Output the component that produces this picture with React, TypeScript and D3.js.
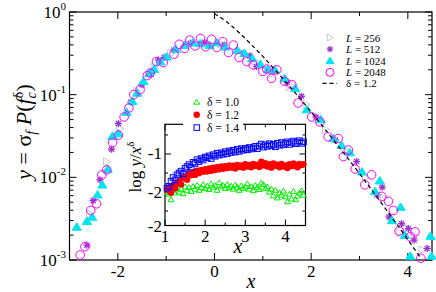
import React from "react";
import * as d3 from "d3";

// ---------- main panel data (x, y) ----------
const l2048X = [-2.78,-2.68,-2.56,-2.44,-2.33,-2.23,-2.11,-1.99,-1.87,-1.77,-1.67,-1.54,-1.39,-1.33,-1.2,-1.06,-0.84,-0.73,-0.62,-0.51,-0.4,-0.29,-0.18,-0.06,0.05,0.17,0.29,0.39,0.51,0.67,0.8,1.0,1.08,1.18,1.29,1.45,1.6,1.73,2.01,2.18,2.35,2.56,2.67,2.77,2.91,3.11,3.25,3.46,3.6,3.7,3.82,4.05,4.15,4.27];
const l2048Y = [0.00115,0.00145,0.00398,0.00479,0.0107,0.0123,0.0263,0.0324,0.0537,0.0692,0.1,0.115,0.17,0.182,0.251,0.245,0.309,0.407,0.363,0.457,0.389,0.479,0.38,0.468,0.372,0.437,0.324,0.398,0.282,0.251,0.229,0.191,0.204,0.158,0.2,0.145,0.132,0.0794,0.0537,0.0468,0.0309,0.0295,0.0178,0.0214,0.0126,0.00813,0.0107,0.00589,0.00513,0.00398,0.00224,0.00191,0.00219,0.00105];

const l1024X = [-2.85,-2.64,-2.53,-2.42,-2.32,-2.21,-2.11,-1.99,-1.82,-1.7,-1.6,-1.47,-1.35,-1.25,-1.12,-0.99,-0.8,-0.62,-0.45,-0.3,-0.1,0.05,0.22,0.47,0.62,0.78,0.95,1.1,1.25,1.45,1.67,1.91,2.2,2.46,2.63,2.8,3.05,3.32,3.42,3.67,3.85,3.94,4.05,4.47,4.49];
const l1024Y = [0.00251,0.00295,0.00331,0.00617,0.00813,0.0126,0.0316,0.0339,0.0617,0.0832,0.105,0.145,0.182,0.204,0.251,0.288,0.355,0.398,0.427,0.417,0.398,0.427,0.38,0.347,0.316,0.275,0.234,0.204,0.2,0.158,0.12,0.0661,0.0501,0.0295,0.0245,0.02,0.0117,0.00676,0.00912,0.00302,0.00437,0.002,0.00112,0.00195,0.00112];

const l512X = [-2.64,-2.51,-2.37,-2.13,-1.99,-1.73,-1.5,-1.3,-1.16,-1.04,-0.84,-0.5,-0.2,0.2,0.6,0.73,0.87,1.2,1.5,1.8,2.1,2.5,2.94,3.36,3.47,3.61,3.87,4.01,4.13,4.4];
const l512Y = [0.00151,0.00525,0.00933,0.0219,0.0447,0.0813,0.132,0.191,0.263,0.282,0.347,0.417,0.427,0.398,0.316,0.295,0.219,0.191,0.141,0.0955,0.0537,0.0282,0.0155,0.00617,0.00759,0.00331,0.00275,0.0024,0.00174,0.00138];

const l256X = [-2.58,-2.23,-1.96,-1.6,-1.25,-0.9,-0.55,-0.2,0.15,0.5,0.85,1.2,1.55,1.9,2.3,2.7,3.13,3.5,3.84,3.95,4.13,4.3];
const l256Y = [0.00363,0.0155,0.0389,0.11,0.214,0.316,0.398,0.417,0.407,0.339,0.251,0.178,0.126,0.0759,0.038,0.0209,0.01,0.00562,0.00214,0.00251,0.002,0.00132];

const fitX = [0,0.25,0.5,0.75,1.0,1.5,2.0,2.5,3.0,3.5,4.0,4.27];
const fitY = [0.955,0.762,0.569,0.41,0.29,0.137,0.0617,0.0265,0.0111,0.00448,0.00176,0.00105];

const mainXTicks = [-2, 0, 2, 4];
const mainXMinor = [-1, 1, 3];
const mainYTicks = [1e-3, 1e-2, 1e-1, 1];
const mainYExp = ["-3", "-2", "-1", "0"];
const legendLabels = ["256", "512", "1024", "2048"];

// ---------- inset data ----------
const insetX = [1.05,1.1,1.15,1.2,1.25,1.3,1.35,1.4,1.45,1.5,1.55,1.6,1.65,1.7,1.75,1.8,1.85,1.9,1.95,2.0,2.05,2.1,2.15,2.2,2.25,2.3,2.35,2.4,2.45,2.5,2.55,2.6,2.65,2.7,2.75,2.8,2.85,2.9,2.95,3.0,3.05,3.1,3.15,3.2,3.25,3.3,3.35,3.4,3.45,3.5,3.55,3.6,3.65,3.7,3.75,3.8,3.85,3.9,3.95,4.0,4.05,4.1,4.15,4.2,4.25,4.3,4.35,4.4,4.45];
const d14 = [-1.9,-1.85,-1.72,-1.62,-1.68,-1.55,-1.5,-1.45,-1.52,-1.38,-1.33,-1.28,-1.35,-1.22,-1.25,-1.15,-1.2,-1.12,-1.16,-1.08,-1.1,-1.05,-1.12,-1.02,-1.06,-0.98,-1.03,-0.97,-1.01,-0.94,-0.99,-0.92,-0.96,-0.9,-0.95,-0.88,-0.93,-0.86,-0.9,-0.85,-0.89,-0.83,-0.87,-0.84,-0.8,-0.86,-0.79,-0.74,-0.82,-0.76,-0.8,-0.73,-0.78,-0.75,-0.81,-0.72,-0.77,-0.7,-0.76,-0.72,-0.68,-0.75,-0.7,-0.66,-0.73,-0.69,-0.65,-0.72,-0.68];
const d12 = [-1.95,-1.88,-2.02,-1.82,-1.9,-1.76,-1.72,-1.8,-1.64,-1.6,-1.68,-1.52,-1.56,-1.48,-1.55,-1.44,-1.5,-1.42,-1.47,-1.4,-1.46,-1.38,-1.44,-1.36,-1.42,-1.35,-1.4,-1.33,-1.39,-1.32,-1.37,-1.3,-1.36,-1.31,-1.38,-1.29,-1.34,-1.3,-1.36,-1.27,-1.33,-1.29,-1.35,-1.26,-1.31,-1.28,-1.34,-1.2,-1.3,-1.24,-1.33,-1.27,-1.36,-1.25,-1.31,-1.28,-1.35,-1.26,-1.33,-1.3,-1.37,-1.27,-1.32,-1.25,-1.3,-1.35,-1.26,-1.29,-1.27];
const d10 = [-2.0,-2.05,-2.2,-1.95,-2.02,-1.9,-2.0,-1.92,-2.04,-1.86,-1.95,-1.88,-1.98,-1.85,-1.92,-1.82,-1.95,-1.88,-1.8,-1.9,-1.84,-1.93,-1.78,-1.87,-1.83,-1.95,-1.75,-1.86,-1.82,-1.9,-1.8,-1.88,-1.84,-1.92,-1.81,-1.87,-1.95,-1.83,-1.9,-1.86,-1.78,-1.92,-1.85,-1.96,-1.82,-1.88,-1.93,-1.76,-1.8,-1.9,-1.86,-2.0,-1.92,-2.1,-1.95,-2.15,-2.02,-2.08,-1.97,-2.12,-2.25,-2.05,-2.18,-1.98,-2.2,-2.1,-2.02,-1.96,-2.08];
const insetXTicks = [1, 2, 3, 4];
const insetYTicks = [-1, -2];
const insetLegend = ["1.0", "1.2", "1.4"];

const FONT = "Liberation Serif, Tinos, Times New Roman, DejaVu Serif, serif";
const C_MAG = "#ff00ff";
const C_CYAN = "#00e5ee";
const C_PURP = "#9932cc";
const C_GRAY = "#c8c8c8";
const C_GREEN = "#00ee00";
const C_RED = "#ff0000";
const C_BLUE = "#0000ff";

function Star({ x, y, r = 3.6 }: { x: number; y: number; r?: number }) {
  const d = r * 0.707;
  return (
    <g stroke={C_PURP} strokeWidth={1.3}>
      <line x1={x - r} y1={y} x2={x + r} y2={y} />
      <line x1={x} y1={y - r} x2={x} y2={y + r} />
      <line x1={x - d} y1={y - d} x2={x + d} y2={y + d} />
      <line x1={x - d} y1={y + d} x2={x + d} y2={y - d} />
    </g>
  );
}
function TriUp({ x, y, s = 5, fill, stroke }: any) {
  const h = s * 0.9;
  return <path d={`M${x},${y - h}L${x + s},${y + h * 0.8}L${x - s},${y + h * 0.8}Z`} fill={fill} stroke={stroke} strokeWidth={1} />;
}
function TriRight({ x, y, s = 4 }: any) {
  return <path d={`M${x + s},${y}L${x - s * 0.8},${y - s}L${x - s * 0.8},${y + s}Z`} fill="none" stroke={C_GRAY} strokeWidth={1} />;
}

export default function App() {
  const xM = d3.scaleLinear().domain([-3, 4.5]).range([69.5, 432]);
  const yM = d3.scaleLog().domain([1e-3, 1]).range([260, 12]);
  const xI = d3.scaleLinear().domain([1, 4.5]).range([165, 305.5]);
  const yI = d3.scaleLinear().domain([-2.88, -0.22]).range([225.5, 124.3]);

  const L = 69.5, R = 432, T = 12, B = 260;
  const yMinor: number[] = [];
  [1e-3, 1e-2, 1e-1].forEach((b) => { for (let k = 2; k <= 9; k++) yMinor.push(b * k); });

  const fitLine = d3.line<number>().x((_, i) => xM(fitX[i])).y((d) => yM(d)).curve(d3.curveMonotoneX)(fitY) || "";

  const IL = 165, IR = 305.5, IT = 124.3, IB = 225.5;

  return (
    <svg width={436} height={292} style={{ position: "absolute", left: 0, top: 0, background: "#fff", fontFamily: FONT }}>
      {/* main frame */}
      <rect x={L} y={T} width={R - L} height={B - T} fill="none" stroke="#000" strokeWidth={1.2} />
      {mainXTicks.map((t) => (
        <g key={"xt" + t} stroke="#000" strokeWidth={1}>
          <line x1={xM(t)} x2={xM(t)} y1={B} y2={B - 7} />
          <line x1={xM(t)} x2={xM(t)} y1={T} y2={T + 7} />
        </g>
      ))}
      {mainXMinor.map((t) => (
        <g key={"xm" + t} stroke="#000" strokeWidth={1}>
          <line x1={xM(t)} x2={xM(t)} y1={B} y2={B - 4} />
          <line x1={xM(t)} x2={xM(t)} y1={T} y2={T + 4} />
        </g>
      ))}
      {mainYTicks.map((t) => (
        <g key={"yt" + t} stroke="#000" strokeWidth={1}>
          <line x1={L} x2={L + 7} y1={yM(t)} y2={yM(t)} />
          <line x1={R} x2={R - 7} y1={yM(t)} y2={yM(t)} />
        </g>
      ))}
      {yMinor.map((t) => (
        <g key={"ym" + t} stroke="#000" strokeWidth={1}>
          <line x1={L} x2={L + 4} y1={yM(t)} y2={yM(t)} />
          <line x1={R} x2={R - 4} y1={yM(t)} y2={yM(t)} />
        </g>
      ))}
      {mainXTicks.map((t) => (
        <text key={"xl" + t} x={xM(t)} y={277} fontSize={17} textAnchor="middle">{t < 0 ? "-" + Math.abs(t) : String(t)}</text>
      ))}
      {mainYTicks.map((t, i) => (
        <text key={"yl" + t} x={66} y={yM(t) + 6} fontSize={17} textAnchor="end">10<tspan dy={-8} fontSize={11}>{mainYExp[i]}</tspan></text>
      ))}
      <text x={251} y={288} fontSize={20} fontStyle="italic" textAnchor="middle">x</text>
      <text transform="translate(31,132) rotate(-90)" fontSize={22} textAnchor="middle">
        <tspan fontStyle="italic">y</tspan> = σ<tspan fontSize={14} fontStyle="italic" dy={5}>f</tspan>
        <tspan dy={-5}> </tspan><tspan fontStyle="italic">P</tspan>(<tspan fontStyle="italic">f</tspan>
        <tspan fontSize={14} fontStyle="italic" dy={5}>c</tspan>
        <tspan fontSize={14} dx={-6} dy={-13}>δ</tspan>
        <tspan dy={8}>)</tspan>
      </text>

      {/* main data */}
      {l256X.map((x, i) => <TriRight key={"g" + i} x={xM(x)} y={yM(l256Y[i])} />)}
      {l512X.map((x, i) => <Star key={"s" + i} x={xM(x)} y={yM(l512Y[i])} />)}
      {l1024X.map((x, i) => <TriUp key={"c" + i} x={xM(x)} y={yM(l1024Y[i])} s={4.6} fill={C_CYAN} stroke={C_CYAN} />)}
      {l2048X.map((x, i) => <circle key={"m" + i} cx={xM(x)} cy={yM(l2048Y[i])} r={4.3} fill="none" stroke={C_MAG} strokeWidth={1} />)}
      <path d={fitLine} fill="none" stroke="#000" strokeWidth={1.2} strokeDasharray="4,3" />

      {/* main legend */}
      {legendLabels.map((lab, i) => {
        const y = 37.5 + i * 11.6;
        return (
          <g key={"lg" + i}>
            {i === 0 && <TriRight x={330} y={y} s={3.5} />}
            {i === 1 && <Star x={330} y={y} r={3.2} />}
            {i === 2 && <TriUp x={330} y={y} s={4} fill={C_CYAN} stroke={C_CYAN} />}
            {i === 3 && <circle cx={330} cy={y} r={4} fill="none" stroke={C_MAG} />}
            <text x={346} y={y + 4} fontSize={11}><tspan fontStyle="italic">L</tspan> = {lab}</text>
          </g>
        );
      })}
      <line x1={322.5} x2={337} y1={83.3} y2={83.3} stroke="#000" strokeWidth={1.2} strokeDasharray="4,3" />
      <text x={346} y={87.3} fontSize={11}>δ = 1.2</text>

      {/* inset */}
      <rect x={IL} y={IT} width={IR - IL} height={IB - IT} fill="#fff" stroke="#000" strokeWidth={1.2} />
      {insetXTicks.map((t) => (
        <g key={"ixt" + t} stroke="#000">
          <line x1={xI(t)} x2={xI(t)} y1={IB} y2={IB - 6} />
          <line x1={xI(t)} x2={xI(t)} y1={IT} y2={IT + 6} />
          {t + 0.5 < 4.5 && <line x1={xI(t + 0.5)} x2={xI(t + 0.5)} y1={IB} y2={IB - 3} />}
          {t + 0.5 < 4.5 && <line x1={xI(t + 0.5)} x2={xI(t + 0.5)} y1={IT} y2={IT + 3} />}
        </g>
      ))}
      {[-0.5, -1, -1.5, -2, -2.5].map((t) => {
        const len = Number.isInteger(t) ? 6 : 3;
        return (
          <g key={"iyt" + t} stroke="#000">
            <line x1={IL} x2={IL + len} y1={yI(t)} y2={yI(t)} />
            <line x1={IR} x2={IR - len} y1={yI(t)} y2={yI(t)} />
          </g>
        );
      })}
      {insetXTicks.map((t) => (
        <text key={"ixl" + t} x={xI(t)} y={242} fontSize={17} textAnchor="middle">{t}</text>
      ))}
      {insetYTicks.map((t) => (
        <text key={"iyl" + t} x={162} y={yI(t) + 5.5} fontSize={17} textAnchor="end">{"-" + Math.abs(t)}</text>
      ))}
      <text x={162} y={IB + 6} fontSize={17} textAnchor="end">-2</text>
      <text x={238} y={253} fontSize={20} fontStyle="italic" textAnchor="middle">x</text>
      <text transform="translate(141,167) rotate(-90)" fontSize={17} textAnchor="middle">
        log <tspan fontStyle="italic">y</tspan>/<tspan fontStyle="italic">x</tspan><tspan dy={-7} fontSize={11}>δ</tspan>
      </text>
      {insetX.map((x, i) => <TriUp key={"ig" + i} x={xI(x)} y={yI(d10[i])} s={3} fill="none" stroke={C_GREEN} />)}
      {insetX.map((x, i) => <circle key={"ir" + i} cx={xI(x)} cy={yI(d12[i])} r={3.2} fill={C_RED} />)}
      {insetX.map((x, i) => <rect key={"ib" + i} x={xI(x) - 2.8} y={yI(d14[i]) - 2.8} width={5.6} height={5.6} fill="none" stroke={C_BLUE} strokeWidth={1} />)}

      {/* inset legend */}
      <rect x={183} y={95} width={60} height={37} fill="#fff" />
      {insetLegend.map((lab, i) => {
        const y = 102 + i * 12.8;
        return (
          <g key={"il" + i}>
            {i === 0 && <TriUp x={196.7} y={y} s={3} fill="none" stroke={C_GREEN} />}
            {i === 1 && <circle cx={196.7} cy={y} r={3.2} fill={C_RED} />}
            {i === 2 && <rect x={194} y={y - 2.8} width={5.6} height={5.6} fill="none" stroke={C_BLUE} />}
            <text x={207} y={y + 4} fontSize={11.5}>δ = {lab}</text>
          </g>
        );
      })}
    </svg>
  );
}
